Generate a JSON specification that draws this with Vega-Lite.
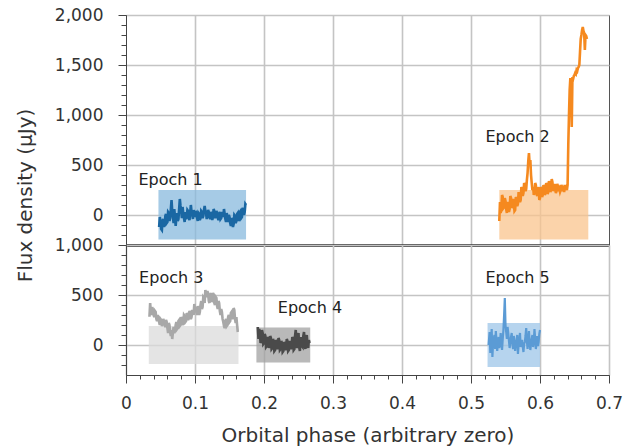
{
"$schema": "https://vega.github.io/schema/vega-lite/v6.json",
"padding": {"left": 14, "top": 5, "right": 5, "bottom": 2},
"spacing": 0,
"bounds": "flush",
"datasets": {
"boxes": [
{"epoch": "Epoch 1", "panel": "top", "phase": 0.047, "phase_end": 0.174, "flux": 250, "flux_low": -245},
{"epoch": "Epoch 2", "panel": "top", "phase": 0.541, "phase_end": 0.670, "flux": 250, "flux_low": -245},
{"epoch": "Epoch 3", "panel": "bottom", "phase": 0.033, "phase_end": 0.163, "flux": 190, "flux_low": -190},
{"epoch": "Epoch 4", "panel": "bottom", "phase": 0.189, "phase_end": 0.267, "flux": 175, "flux_low": -175},
{"epoch": "Epoch 5", "panel": "bottom", "phase": 0.524, "phase_end": 0.600, "flux": 220, "flux_low": -220}
],
"labels": [
{"label": "Epoch 1", "panel": "top", "phase": 0.018, "flux": 350},
{"label": "Epoch 2", "panel": "top", "phase": 0.521, "flux": 780},
{"label": "Epoch 3", "panel": "bottom", "phase": 0.019, "flux": 672},
{"label": "Epoch 4", "panel": "bottom", "phase": 0.220, "flux": 367},
{"label": "Epoch 5", "panel": "bottom", "phase": 0.521, "flux": 672}
],
"e1": [
{"phase":0.048,"flux":-120},{"phase":0.049,"flux":-20},{"phase":0.050,"flux":-60},{"phase":0.051,"flux":-140},{"phase":0.052,"flux":-150},{"phase":0.053,"flux":-60},{"phase":0.054,"flux":-40},{"phase":0.055,"flux":-120},{"phase":0.056,"flux":-90},{"phase":0.057,"flux":-10},{"phase":0.058,"flux":10},{"phase":0.059,"flux":-80},{"phase":0.060,"flux":-70},{"phase":0.061,"flux":30},{"phase":0.062,"flux":20},{"phase":0.063,"flux":-60},{"phase":0.064,"flux":-30},{"phase":0.065,"flux":60},{"phase":0.066,"flux":150},{"phase":0.067,"flux":40},{"phase":0.068,"flux":-20},{"phase":0.069,"flux":-80},{"phase":0.070,"flux":60},{"phase":0.071,"flux":-20},{"phase":0.072,"flux":-110},{"phase":0.073,"flux":-30},{"phase":0.074,"flux":20},{"phase":0.075,"flux":-60},{"phase":0.076,"flux":-40},{"phase":0.077,"flux":60},{"phase":0.078,"flux":160},{"phase":0.079,"flux":90},{"phase":0.080,"flux":40},{"phase":0.081,"flux":-30},{"phase":0.082,"flux":80},{"phase":0.083,"flux":10},{"phase":0.084,"flux":-30},{"phase":0.085,"flux":-70},{"phase":0.086,"flux":30},{"phase":0.087,"flux":-40},{"phase":0.088,"flux":-20},{"phase":0.089,"flux":50},{"phase":0.090,"flux":40},{"phase":0.091,"flux":-30},{"phase":0.092,"flux":-50},{"phase":0.093,"flux":20},{"phase":0.094,"flux":100},{"phase":0.095,"flux":30},{"phase":0.096,"flux":10},{"phase":0.097,"flux":-40},{"phase":0.098,"flux":50},{"phase":0.099,"flux":10},{"phase":0.100,"flux":-20},{"phase":0.101,"flux":40},{"phase":0.102,"flux":20},{"phase":0.103,"flux":-30},{"phase":0.104,"flux":-60},{"phase":0.105,"flux":20},{"phase":0.106,"flux":10},{"phase":0.107,"flux":-50},{"phase":0.108,"flux":-30},{"phase":0.109,"flux":40},{"phase":0.110,"flux":30},{"phase":0.111,"flux":-30},{"phase":0.112,"flux":-10},{"phase":0.113,"flux":50},{"phase":0.114,"flux":90},{"phase":0.115,"flux":40},{"phase":0.116,"flux":20},{"phase":0.117,"flux":-40},{"phase":0.118,"flux":-10},{"phase":0.119,"flux":50},{"phase":0.120,"flux":30},{"phase":0.121,"flux":-20},{"phase":0.122,"flux":-40},{"phase":0.123,"flux":30},{"phase":0.124,"flux":10},{"phase":0.125,"flux":-50},{"phase":0.126,"flux":-20},{"phase":0.127,"flux":60},{"phase":0.128,"flux":40},{"phase":0.129,"flux":-30},{"phase":0.130,"flux":-10},{"phase":0.131,"flux":40},{"phase":0.132,"flux":20},{"phase":0.133,"flux":-30},{"phase":0.134,"flux":-50},{"phase":0.135,"flux":10},{"phase":0.136,"flux":30},{"phase":0.137,"flux":-40},{"phase":0.138,"flux":-30},{"phase":0.139,"flux":30},{"phase":0.140,"flux":0},{"phase":0.141,"flux":-20},{"phase":0.142,"flux":60},{"phase":0.143,"flux":10},{"phase":0.144,"flux":-40},{"phase":0.145,"flux":-70},{"phase":0.146,"flux":20},{"phase":0.147,"flux":-30},{"phase":0.148,"flux":-70},{"phase":0.149,"flux":0},{"phase":0.150,"flux":-20},{"phase":0.151,"flux":-80},{"phase":0.152,"flux":-110},{"phase":0.153,"flux":-30},{"phase":0.154,"flux":-50},{"phase":0.155,"flux":-120},{"phase":0.156,"flux":-90},{"phase":0.157,"flux":0},{"phase":0.158,"flux":-10},{"phase":0.159,"flux":-80},{"phase":0.160,"flux":-60},{"phase":0.161,"flux":10},{"phase":0.162,"flux":20},{"phase":0.163,"flux":-60},{"phase":0.164,"flux":-40},{"phase":0.165,"flux":30},{"phase":0.166,"flux":40},{"phase":0.167,"flux":-30},{"phase":0.168,"flux":-20},{"phase":0.169,"flux":50},{"phase":0.170,"flux":70},{"phase":0.171,"flux":0},{"phase":0.172,"flux":30},{"phase":0.173,"flux":110},{"phase":0.174,"flux":100}
],
"e2": [
{"phase":0.541,"flux":-60},{"phase":0.542,"flux":130},{"phase":0.543,"flux":20},{"phase":0.544,"flux":60},{"phase":0.545,"flux":200},{"phase":0.546,"flux":180},{"phase":0.547,"flux":70},{"phase":0.548,"flux":80},{"phase":0.549,"flux":170},{"phase":0.550,"flux":140},{"phase":0.551,"flux":60},{"phase":0.552,"flux":20},{"phase":0.553,"flux":130},{"phase":0.554,"flux":110},{"phase":0.555,"flux":30},{"phase":0.556,"flux":60},{"phase":0.557,"flux":190},{"phase":0.558,"flux":170},{"phase":0.559,"flux":70},{"phase":0.560,"flux":90},{"phase":0.561,"flux":160},{"phase":0.562,"flux":120},{"phase":0.563,"flux":40},{"phase":0.564,"flux":50},{"phase":0.565,"flux":180},{"phase":0.566,"flux":160},{"phase":0.567,"flux":90},{"phase":0.568,"flux":110},{"phase":0.569,"flux":230},{"phase":0.570,"flux":200},{"phase":0.571,"flux":130},{"phase":0.572,"flux":150},{"phase":0.573,"flux":280},{"phase":0.574,"flux":260},{"phase":0.575,"flux":190},{"phase":0.576,"flux":220},{"phase":0.577,"flux":320},{"phase":0.578,"flux":300},{"phase":0.579,"flux":240},{"phase":0.580,"flux":260},{"phase":0.581,"flux":350},{"phase":0.582,"flux":420},{"phase":0.583,"flux":540},{"phase":0.584,"flux":620},{"phase":0.585,"flux":500},{"phase":0.586,"flux":550},{"phase":0.587,"flux":400},{"phase":0.588,"flux":320},{"phase":0.589,"flux":250},{"phase":0.590,"flux":280},{"phase":0.591,"flux":200},{"phase":0.592,"flux":230},{"phase":0.593,"flux":320},{"phase":0.594,"flux":300},{"phase":0.595,"flux":210},{"phase":0.596,"flux":190},{"phase":0.597,"flux":280},{"phase":0.598,"flux":250},{"phase":0.599,"flux":150},{"phase":0.600,"flux":170},{"phase":0.601,"flux":280},{"phase":0.602,"flux":260},{"phase":0.603,"flux":180},{"phase":0.604,"flux":200},{"phase":0.605,"flux":300},{"phase":0.606,"flux":280},{"phase":0.607,"flux":200},{"phase":0.608,"flux":220},{"phase":0.609,"flux":320},{"phase":0.610,"flux":300},{"phase":0.611,"flux":210},{"phase":0.612,"flux":230},{"phase":0.613,"flux":340},{"phase":0.614,"flux":310},{"phase":0.615,"flux":230},{"phase":0.616,"flux":250},{"phase":0.617,"flux":360},{"phase":0.618,"flux":330},{"phase":0.619,"flux":240},{"phase":0.620,"flux":260},{"phase":0.621,"flux":310},{"phase":0.622,"flux":280},{"phase":0.623,"flux":220},{"phase":0.624,"flux":240},{"phase":0.625,"flux":310},{"phase":0.626,"flux":290},{"phase":0.627,"flux":240},{"phase":0.628,"flux":260},{"phase":0.629,"flux":230},{"phase":0.630,"flux":250},{"phase":0.631,"flux":300},{"phase":0.632,"flux":280},{"phase":0.633,"flux":240},{"phase":0.634,"flux":260},{"phase":0.635,"flux":230},{"phase":0.636,"flux":300},{"phase":0.637,"flux":250},{"phase":0.638,"flux":270},{"phase":0.639,"flux":250},{"phase":0.640,"flux":300},{"phase":0.641,"flux":700},{"phase":0.642,"flux":1000},{"phase":0.643,"flux":1250},{"phase":0.644,"flux":1370},{"phase":0.645,"flux":1300},{"phase":0.646,"flux":880},{"phase":0.647,"flux":1380},{"phase":0.648,"flux":1360},{"phase":0.649,"flux":1390},{"phase":0.650,"flux":1400},{"phase":0.651,"flux":1420},{"phase":0.652,"flux":1410},{"phase":0.653,"flux":1450},{"phase":0.654,"flux":1440},{"phase":0.655,"flux":1470},{"phase":0.656,"flux":1480},{"phase":0.657,"flux":1500},{"phase":0.658,"flux":1630},{"phase":0.659,"flux":1760},{"phase":0.660,"flux":1800},{"phase":0.661,"flux":1850},{"phase":0.662,"flux":1880},{"phase":0.663,"flux":1840},{"phase":0.664,"flux":1820},{"phase":0.665,"flux":1650},{"phase":0.666,"flux":1800},{"phase":0.667,"flux":1790},{"phase":0.668,"flux":1760}
],
"e3": [
{"phase":0.034,"flux":283},{"phase":0.035,"flux":420},{"phase":0.036,"flux":330},{"phase":0.037,"flux":300},{"phase":0.038,"flux":380},{"phase":0.039,"flux":350},{"phase":0.040,"flux":300},{"phase":0.041,"flux":280},{"phase":0.042,"flux":340},{"phase":0.043,"flux":330},{"phase":0.044,"flux":260},{"phase":0.045,"flux":240},{"phase":0.046,"flux":300},{"phase":0.047,"flux":270},{"phase":0.048,"flux":230},{"phase":0.049,"flux":200},{"phase":0.050,"flux":260},{"phase":0.051,"flux":250},{"phase":0.052,"flux":190},{"phase":0.053,"flux":210},{"phase":0.054,"flux":260},{"phase":0.055,"flux":240},{"phase":0.056,"flux":200},{"phase":0.057,"flux":180},{"phase":0.058,"flux":250},{"phase":0.059,"flux":230},{"phase":0.060,"flux":170},{"phase":0.061,"flux":120},{"phase":0.062,"flux":220},{"phase":0.063,"flux":200},{"phase":0.064,"flux":130},{"phase":0.065,"flux":90},{"phase":0.066,"flux":150},{"phase":0.067,"flux":60},{"phase":0.068,"flux":130},{"phase":0.069,"flux":180},{"phase":0.070,"flux":120},{"phase":0.071,"flux":140},{"phase":0.072,"flux":200},{"phase":0.073,"flux":230},{"phase":0.074,"flux":160},{"phase":0.075,"flux":170},{"phase":0.076,"flux":240},{"phase":0.077,"flux":250},{"phase":0.078,"flux":190},{"phase":0.079,"flux":200},{"phase":0.080,"flux":280},{"phase":0.081,"flux":260},{"phase":0.082,"flux":200},{"phase":0.083,"flux":220},{"phase":0.084,"flux":300},{"phase":0.085,"flux":290},{"phase":0.086,"flux":230},{"phase":0.087,"flux":240},{"phase":0.088,"flux":320},{"phase":0.089,"flux":300},{"phase":0.090,"flux":250},{"phase":0.091,"flux":270},{"phase":0.092,"flux":340},{"phase":0.093,"flux":320},{"phase":0.094,"flux":260},{"phase":0.095,"flux":280},{"phase":0.096,"flux":350},{"phase":0.097,"flux":330},{"phase":0.098,"flux":300},{"phase":0.099,"flux":410},{"phase":0.100,"flux":350},{"phase":0.101,"flux":380},{"phase":0.102,"flux":330},{"phase":0.103,"flux":300},{"phase":0.104,"flux":390},{"phase":0.105,"flux":360},{"phase":0.106,"flux":300},{"phase":0.107,"flux":330},{"phase":0.108,"flux":400},{"phase":0.109,"flux":440},{"phase":0.110,"flux":360},{"phase":0.111,"flux":380},{"phase":0.112,"flux":480},{"phase":0.113,"flux":470},{"phase":0.114,"flux":420},{"phase":0.115,"flux":550},{"phase":0.116,"flux":500},{"phase":0.117,"flux":480},{"phase":0.118,"flux":540},{"phase":0.119,"flux":510},{"phase":0.120,"flux":440},{"phase":0.121,"flux":420},{"phase":0.122,"flux":500},{"phase":0.123,"flux":520},{"phase":0.124,"flux":430},{"phase":0.125,"flux":450},{"phase":0.126,"flux":520},{"phase":0.127,"flux":500},{"phase":0.128,"flux":420},{"phase":0.129,"flux":400},{"phase":0.130,"flux":480},{"phase":0.131,"flux":470},{"phase":0.132,"flux":390},{"phase":0.133,"flux":360},{"phase":0.134,"flux":440},{"phase":0.135,"flux":420},{"phase":0.136,"flux":340},{"phase":0.137,"flux":300},{"phase":0.138,"flux":360},{"phase":0.139,"flux":330},{"phase":0.140,"flux":260},{"phase":0.141,"flux":230},{"phase":0.142,"flux":190},{"phase":0.143,"flux":170},{"phase":0.144,"flux":240},{"phase":0.145,"flux":260},{"phase":0.146,"flux":190},{"phase":0.147,"flux":200},{"phase":0.148,"flux":280},{"phase":0.149,"flux":300},{"phase":0.150,"flux":230},{"phase":0.151,"flux":240},{"phase":0.152,"flux":320},{"phase":0.153,"flux":330},{"phase":0.154,"flux":260},{"phase":0.155,"flux":280},{"phase":0.156,"flux":370},{"phase":0.157,"flux":350},{"phase":0.158,"flux":260},{"phase":0.159,"flux":220},{"phase":0.160,"flux":280},{"phase":0.161,"flux":200},{"phase":0.162,"flux":130}
],
"e4": [
{"phase":0.191,"flux":180},{"phase":0.192,"flux":60},{"phase":0.193,"flux":160},{"phase":0.194,"flux":130},{"phase":0.195,"flux":20},{"phase":0.196,"flux":40},{"phase":0.197,"flux":150},{"phase":0.198,"flux":120},{"phase":0.199,"flux":10},{"phase":0.200,"flux":20},{"phase":0.201,"flux":110},{"phase":0.202,"flux":90},{"phase":0.203,"flux":-20},{"phase":0.204,"flux":-10},{"phase":0.205,"flux":80},{"phase":0.206,"flux":60},{"phase":0.207,"flux":-30},{"phase":0.208,"flux":0},{"phase":0.209,"flux":90},{"phase":0.210,"flux":70},{"phase":0.211,"flux":-40},{"phase":0.212,"flux":-30},{"phase":0.213,"flux":60},{"phase":0.214,"flux":40},{"phase":0.215,"flux":-60},{"phase":0.216,"flux":-50},{"phase":0.217,"flux":50},{"phase":0.218,"flux":30},{"phase":0.219,"flux":-40},{"phase":0.220,"flux":-20},{"phase":0.221,"flux":70},{"phase":0.222,"flux":50},{"phase":0.223,"flux":-50},{"phase":0.224,"flux":-40},{"phase":0.225,"flux":40},{"phase":0.226,"flux":20},{"phase":0.227,"flux":-70},{"phase":0.228,"flux":-60},{"phase":0.229,"flux":30},{"phase":0.230,"flux":10},{"phase":0.231,"flux":-50},{"phase":0.232,"flux":-30},{"phase":0.233,"flux":60},{"phase":0.234,"flux":40},{"phase":0.235,"flux":-60},{"phase":0.236,"flux":-50},{"phase":0.237,"flux":40},{"phase":0.238,"flux":20},{"phase":0.239,"flux":-40},{"phase":0.240,"flux":-20},{"phase":0.241,"flux":80},{"phase":0.242,"flux":60},{"phase":0.243,"flux":-50},{"phase":0.244,"flux":-40},{"phase":0.245,"flux":90},{"phase":0.246,"flux":150},{"phase":0.247,"flux":20},{"phase":0.248,"flux":-30},{"phase":0.249,"flux":60},{"phase":0.250,"flux":120},{"phase":0.251,"flux":-20},{"phase":0.252,"flux":-60},{"phase":0.253,"flux":40},{"phase":0.254,"flux":80},{"phase":0.255,"flux":-10},{"phase":0.256,"flux":-20},{"phase":0.257,"flux":90},{"phase":0.258,"flux":130},{"phase":0.259,"flux":0},{"phase":0.260,"flux":-40},{"phase":0.261,"flux":60},{"phase":0.262,"flux":100},{"phase":0.263,"flux":10},{"phase":0.264,"flux":-30},{"phase":0.265,"flux":50},{"phase":0.266,"flux":20}
],
"e5": [
{"phase":0.5255,"flux":0},{"phase":0.527,"flux":130},{"phase":0.528,"flux":-80},{"phase":0.529,"flux":40},{"phase":0.530,"flux":160},{"phase":0.531,"flux":-120},{"phase":0.532,"flux":20},{"phase":0.533,"flux":60},{"phase":0.534,"flux":100},{"phase":0.535,"flux":-40},{"phase":0.536,"flux":140},{"phase":0.537,"flux":30},{"phase":0.538,"flux":-60},{"phase":0.539,"flux":20},{"phase":0.540,"flux":80},{"phase":0.541,"flux":-30},{"phase":0.542,"flux":20},{"phase":0.543,"flux":120},{"phase":0.544,"flux":40},{"phase":0.545,"flux":-50},{"phase":0.546,"flux":60},{"phase":0.547,"flux":150},{"phase":0.548,"flux":300},{"phase":0.549,"flux":470},{"phase":0.550,"flux":200},{"phase":0.551,"flux":130},{"phase":0.552,"flux":60},{"phase":0.553,"flux":180},{"phase":0.554,"flux":120},{"phase":0.555,"flux":40},{"phase":0.556,"flux":-30},{"phase":0.557,"flux":30},{"phase":0.558,"flux":80},{"phase":0.559,"flux":120},{"phase":0.560,"flux":10},{"phase":0.561,"flux":-40},{"phase":0.562,"flux":90},{"phase":0.563,"flux":40},{"phase":0.564,"flux":-60},{"phase":0.565,"flux":10},{"phase":0.566,"flux":40},{"phase":0.567,"flux":100},{"phase":0.568,"flux":-90},{"phase":0.569,"flux":0},{"phase":0.570,"flux":60},{"phase":0.571,"flux":120},{"phase":0.572,"flux":-20},{"phase":0.573,"flux":20},{"phase":0.574,"flux":50},{"phase":0.575,"flux":-10},{"phase":0.576,"flux":-70},{"phase":0.577,"flux":10},{"phase":0.578,"flux":30},{"phase":0.579,"flux":90},{"phase":0.580,"flux":170},{"phase":0.581,"flux":40},{"phase":0.582,"flux":-40},{"phase":0.583,"flux":50},{"phase":0.584,"flux":140},{"phase":0.585,"flux":20},{"phase":0.586,"flux":-50},{"phase":0.587,"flux":10},{"phase":0.588,"flux":60},{"phase":0.589,"flux":100},{"phase":0.590,"flux":-20},{"phase":0.591,"flux":40},{"phase":0.592,"flux":160},{"phase":0.593,"flux":60},{"phase":0.594,"flux":-40},{"phase":0.595,"flux":20},{"phase":0.596,"flux":90},{"phase":0.597,"flux":-10},{"phase":0.598,"flux":30},{"phase":0.599,"flux":110},{"phase":0.600,"flux":150}
]
},
"vconcat": [
{
"width": 483, "height": 230,
"encoding": {
"x": {"field": "phase", "type": "quantitative", "scale": {"domain": [0, 0.7], "nice": false, "zero": false},
"axis": {"orient": "bottom", "values": [0.1, 0.2, 0.3, 0.4, 0.5, 0.6], "labels": false, "ticks": false, "domain": true, "domainColor": "#111", "domainWidth": 2.5, "grid": true, "title": null}},
"y": {"field": "flux", "type": "quantitative", "scale": {"domain": [-300, 2000], "nice": false, "zero": false},
"axis": {"values": [-200,-100,0,100,200,300,400,500,600,700,800,900,1000,1100,1200,1300,1400,1500,1600,1700,1800,1900,2000],
"labelExpr": "datum.value % 500 === 0 ? format(datum.value, ',') : ''", "labelOverlap": false, "labelFlush": false, "labelPadding": 15,
"tickSize": {"condition": {"test": "datum.value % 500 === 0", "value": 8}, "value": 5},
"gridOpacity": {"condition": {"test": "datum.value % 500 === 0", "value": 1}, "value": 0},
"title": "Flux density (μJy)", "titleX": -101, "titleY": 180, "titleAngle": -90, "titleAlign": "center", "titleBaseline": "middle"}}
},
"layer": [
{"data": {"name": "boxes"}, "transform": [{"filter": "datum.panel === 'top'"}], "mark": {"type": "rect", "opacity": 0.75},
"encoding": {"x2": {"field": "phase_end"}, "y2": {"field": "flux_low"},
"fill": {"field": "epoch", "type": "nominal", "legend": null, "scale": {"domain": ["Epoch 1","Epoch 2","Epoch 3","Epoch 4","Epoch 5"], "range": ["#88bade","#fac48e","#dbdbdb","#a2a2a2","#9ec6e8"]}}}},
{"data": {"name": "e1"}, "mark": {"type": "line", "color": "#1a67a3", "strokeWidth": 2.6}, "encoding": {}},
{"data": {"name": "e2"}, "mark": {"type": "line", "color": "#f5891f", "strokeWidth": 2.6}, "encoding": {}},
{"data": {"name": "labels"}, "transform": [{"filter": "datum.panel === 'top'"}], "mark": {"type": "text", "align": "left", "baseline": "middle", "fontSize": 16, "font": "DejaVu Sans", "color": "#222"},
"encoding": {"text": {"field": "label"}}}
]
},
{
"width": 483, "height": 130,
"encoding": {
"x": {"field": "phase", "type": "quantitative", "scale": {"domain": [0, 0.7], "nice": false, "zero": false},
"axis": {"values": [0,0.02,0.04,0.06,0.08,0.1,0.12,0.14,0.16,0.18,0.2,0.22,0.24,0.26,0.28,0.3,0.32,0.34,0.36,0.38,0.4,0.42,0.44,0.46,0.48,0.5,0.52,0.54,0.56,0.58,0.6,0.62,0.64,0.66,0.68,0.7],
"labelExpr": "abs(round(datum.value*50)) % 5 === 0 ? format(datum.value, '.1~f') : ''", "labelOverlap": false, "labelFlush": false, "labelPadding": 12,
"tickSize": {"condition": {"test": "abs(round(datum.value*50)) % 5 === 0", "value": 8}, "value": 4},
"gridOpacity": {"condition": {"test": "abs(round(datum.value*50)) % 5 === 0", "value": 1}, "value": 0},
"title": "Orbital phase (arbitrary zero)", "titleY": 66, "titleBaseline": "alphabetic"}},
"y": {"field": "flux", "type": "quantitative", "scale": {"domain": [-300, 1000], "nice": false, "zero": false},
"axis": {"values": [-200,-100,0,100,200,300,400,500,600,700,800,900,1000],
"labelExpr": "datum.value % 500 === 0 ? format(datum.value, ',') : ''", "labelOverlap": false, "labelFlush": false, "labelPadding": 15,
"tickSize": {"condition": {"test": "datum.value % 500 === 0", "value": 8}, "value": 5},
"gridOpacity": {"condition": {"test": "datum.value % 500 === 0", "value": 1}, "value": 0},
"title": null}}
},
"layer": [
{"data": {"name": "boxes"}, "transform": [{"filter": "datum.panel === 'bottom'"}], "mark": {"type": "rect", "opacity": 0.75},
"encoding": {"x2": {"field": "phase_end"}, "y2": {"field": "flux_low"},
"fill": {"field": "epoch", "type": "nominal", "legend": null, "scale": {"domain": ["Epoch 1","Epoch 2","Epoch 3","Epoch 4","Epoch 5"], "range": ["#88bade","#fac48e","#dbdbdb","#a2a2a2","#9ec6e8"]}}}},
{"data": {"name": "e3"}, "mark": {"type": "line", "color": "#a8a8a8", "strokeWidth": 2.6}, "encoding": {}},
{"data": {"name": "e4"}, "mark": {"type": "line", "color": "#4a4a4a", "strokeWidth": 2.6}, "encoding": {}},
{"data": {"name": "e5"}, "mark": {"type": "line", "color": "#5b9bd5", "strokeWidth": 2.2}, "encoding": {}},
{"data": {"name": "labels"}, "transform": [{"filter": "datum.panel === 'bottom'"}], "mark": {"type": "text", "align": "left", "baseline": "middle", "fontSize": 16, "font": "DejaVu Sans", "color": "#222"},
"encoding": {"text": {"field": "label"}}}
]
}
],
"config": {
"font": "DejaVu Sans",
"view": {"stroke": "#555", "strokeWidth": 1},
"axis": {"labelFont": "DejaVu Sans", "labelFontSize": 17, "labelColor": "#333", "titleFont": "DejaVu Sans", "titleFontSize": 20, "titleFontWeight": "normal", "titleColor": "#333", "gridColor": "#c4c4c4", "gridWidth": 1.6, "tickColor": "#444", "domainColor": "#444", "tickWidth": 1}
}
}
